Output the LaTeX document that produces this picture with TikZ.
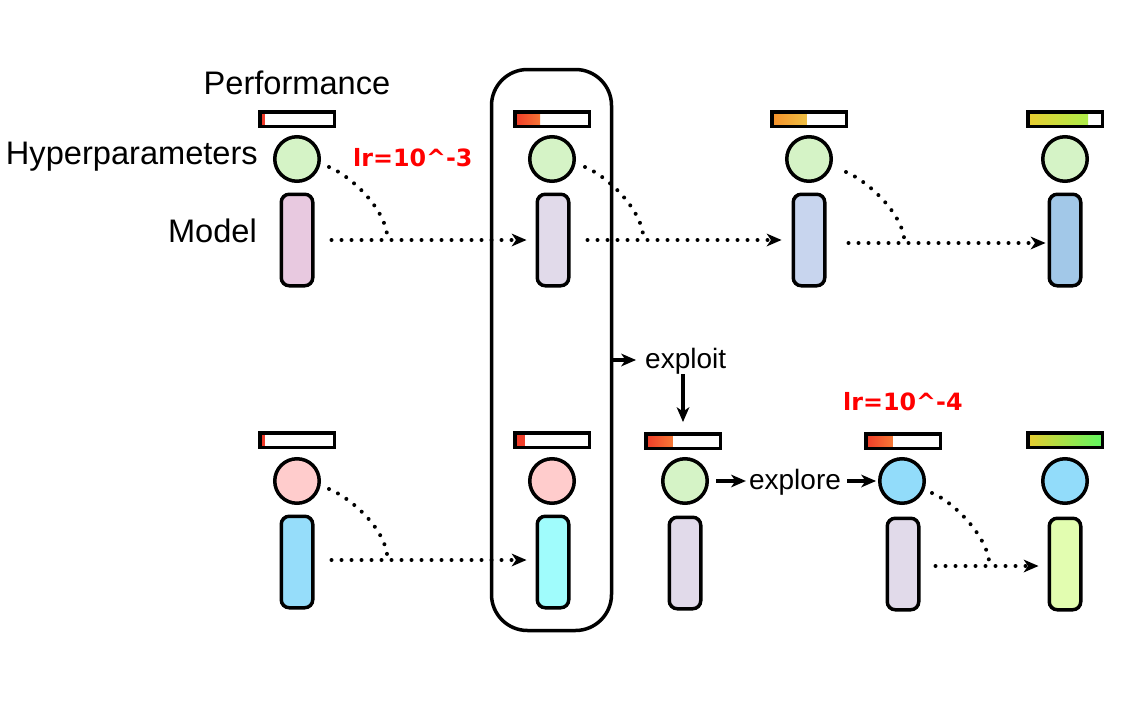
\documentclass[tikz,border=0pt]{standalone}
\usepackage{fontspec}
\setmainfont{Liberation Sans}
\newfontfamily\lrfont{DejaVu Sans}
\usetikzlibrary{arrows.meta,calc}

% fills of the hyperparameter circles
\definecolor{hgreen}{HTML}{D5F3C6}
\definecolor{hpink}{HTML}{FFCCCC}
\definecolor{hblue}{HTML}{92DCFA}
% fills of the model boxes
\definecolor{mpink}{HTML}{E8C9E0}
\definecolor{mlav}{HTML}{E1DAEA}
\definecolor{mperi}{HTML}{C8D5EE}
\definecolor{msteel}{HTML}{A2C8E8}
\definecolor{msky}{HTML}{96DDFA}
\definecolor{mcyan}{HTML}{A0FCFC}
\definecolor{mlime}{HTML}{E2FDB0}
% performance gradients
\definecolor{pred}{HTML}{F03A28}
\definecolor{pred2}{HTML}{F86A40}
\definecolor{pyel}{HTML}{FFE850}
\definecolor{porange}{HTML}{F5902A}
\definecolor{plemon}{HTML}{E8F560}
\definecolor{pgold}{HTML}{E8CC30}
\definecolor{plgreen}{HTML}{A0F550}
\definecolor{pgreen}{HTML}{60F860}
\definecolor{lrred}{HTML}{FF0000}

\tikzset{
  perf/.style n args={3}{draw, line width=3.5pt, fill=white,
    minimum width=74.5pt, minimum height=14.5pt, inner sep=0pt,
    path picture={\shade[left color=#2, right color=#3]
      (path picture bounding box.south west) rectangle
      ($(path picture bounding box.north west)!#1!(path picture bounding box.north east)$);}},
  hyp/.style={circle, draw, line width=3.5pt, minimum size=44.5pt, inner sep=0pt, fill=#1},
  model/.style={draw, line width=3.5pt, rounded corners=8pt, minimum width=31.5pt,
    minimum height=91.5pt, inner sep=0pt, fill=#1},
  dots/.style={line width=4pt, line cap=round, dash pattern=on 0pt off 10pt},
  dotarrow/.style={dots, -{Stealth[length=15pt,width=13pt,inset=4.5pt,line width=0pt]}},
  arr/.style={line width=3.5pt, -{Stealth[length=15pt,width=13pt,inset=4.5pt,line width=0pt]}},
  lbl/.style={inner sep=0pt, font=\fontsize{32.6}{38}\selectfont},
  lbl2/.style={inner sep=0pt, font=\fontsize{28}{34}\selectfont},
  lr/.style={inner sep=0pt, text=lrred, font=\lrfont\bfseries\fontsize{23.8}{28}\selectfont},
}

\begin{document}
\begin{tikzpicture}[x=1pt,y=-1pt]
\useasboundingbox (0,0) rectangle (1144,712);

% selected member (rounded frame)
\node[draw, line width=3.5pt, rounded corners=36pt, minimum width=120pt,
      minimum height=561pt, inner sep=0pt] (sel) at (551.5,350) {};

% ---- top population row ----
\node[perf={0.07}{pred}{pred}]      (p1) at (297,119) {};
\node[hyp=hgreen]                   (h1) at (297,159) {};
\node[model=mpink]                  (m1) at (297,240) {};

\node[perf={0.34}{pred}{pyel}]      (p2) at (552,119) {};
\node[hyp=hgreen]                   (h2) at (552,159) {};
\node[model=mlav]                   (m2) at (553,240) {};

\node[perf={0.47}{porange}{plemon}] (p3) at (809,119) {};
\node[hyp=hgreen]                   (h3) at (809,159) {};
\node[model=mperi]                  (m3) at (809,240) {};

\node[perf={0.81}{pgold}{plgreen}]  (p4) at (1065,119) {};
\node[hyp=hgreen]                   (h4) at (1065,159) {};
\node[model=msteel]                 (m4) at (1065,240) {};

% ---- bottom population row ----
\node[perf={0.07}{pred}{pred}]      (q1) at (297,440) {};
\node[hyp=hpink]                    (g1) at (297,481) {};
\node[model=msky]                   (n1) at (297,562) {};

\node[perf={0.13}{pred}{pred2}]     (q2) at (552,440) {};
\node[hyp=hpink]                    (g2) at (552,481) {};
\node[model=mcyan]                  (n2) at (553,562) {};

\node[perf={0.36}{pred}{pyel}]      (q3) at (683,441) {};
\node[hyp=hgreen]                   (g3) at (685,481) {};
\node[model=mlav]                   (n3) at (685,563) {};

\node[perf={0.36}{pred}{pyel}]      (q4) at (903,441) {};
\node[hyp=hblue]                    (g4) at (902,481) {};
\node[model=mlav]                   (n4) at (903,564) {};

\node[perf={1}{pgold}{pgreen}]      (q5) at (1065,440) {};
\node[hyp=hblue]                    (g5) at (1065,481) {};
\node[model=mlime]                  (n5) at (1065,564) {};

% ---- labels ----
\node[lbl, anchor=base]      (tperf) at (297,94)  {Performance};
\node[lbl, anchor=base east] (thyp)  at (258,164) {Hyperparameters};
\node[lbl, anchor=base east] (tmod)  at (257,242) {Model};
\node[lr, anchor=base west]  (lr1)   at (353,166) {lr=10\textasciicircum-3};
\node[lr, anchor=base west]  (lr2)   at (843,410) {lr=10\textasciicircum-4};

% ---- training steps: hyperparameters + weights feed the next model ----
\coordinate (j1) at ($(m1.east)+(73,0)$);
\draw[dots] ($(h1)+(32,8)$) .. controls +(22,9) and +(0,-30) .. (j1);
\draw[dotarrow, shorten <=17pt, shorten >=9pt] (m1.east) -- (m2.west);

\coordinate (j2) at ($(m2.east)+(73,0)$);
\draw[dots] ($(h2)+(33,8)$) .. controls +(22,9) and +(0,-30) .. (j2);
\draw[dotarrow, shorten <=17pt, shorten >=10pt] (m2.east) -- (m3.west);

\coordinate (j3) at ($(m3.east)+(78,3)$);
\draw[dots] ($(h3)+(37,13)$) .. controls +(22,9) and +(0,-28) .. (j3);
\draw[dotarrow, shorten >=2pt] ($(m3.east)+(22,3)$) -- ($(m4.west)+(0,3)$);

\coordinate (k1) at ($(n1.east)+(73,-2)$);
\draw[dots] ($(g1)+(32,8)$) .. controls +(22,9) and +(0,-30) .. (k1);
\draw[dotarrow, shorten <=17pt, shorten >=9pt] ($(n1.east)+(0,-2)$) -- ($(n2.west)+(0,-2)$);

\coordinate (k4) at ($(n4.east)+(69,2)$);
\draw[dots] ($(g4)+(30,12)$) .. controls +(22,9) and +(0,-28) .. (k4);
\draw[dotarrow, shorten <=15pt, shorten >=9pt] ($(n4.east)+(0,2)$) -- ($(n5.west)+(0,2)$);

% ---- exploit / explore ----
\node[lbl2, anchor=base west] (xpl) at (645,368) {exploit};
\path (sel.east) ++(0,10) coordinate (selx);
\draw[arr, shorten >=9pt] (selx) -- (xpl.west |- selx);
\draw[arr, shorten >=10pt] (xpl.south -| q3.north) -- (q3.north);

\node[lbl2, anchor=base] (xpr) at (795,489) {explore};
\draw[arr, shorten <=7pt, shorten >=3pt] (g3.east) -- (g3.east -| xpr.west);
\draw[arr, shorten <=6pt, shorten >=2pt] (xpr.east |- g4.west) -- (g4.west);
\end{tikzpicture}
\end{document}
